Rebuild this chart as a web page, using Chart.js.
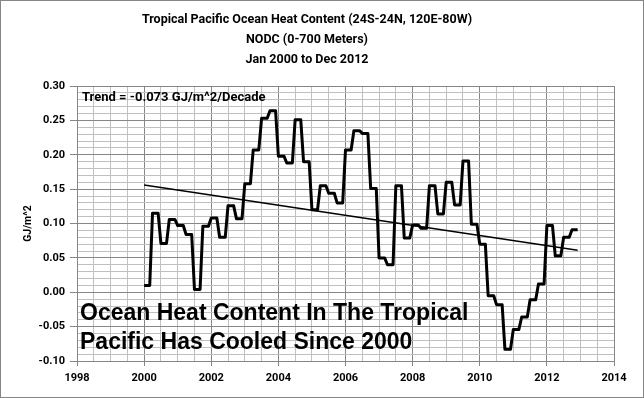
<!DOCTYPE html>
<html><head><meta charset="utf-8">
<script src="https://cdn.jsdelivr.net/npm/chart.js@4/dist/chart.umd.min.js"></script>
<style>html,body{margin:0;padding:0;background:#fff;}canvas{display:block;}</style>
</head><body>
<canvas id="c" width="644" height="398"></canvas>
<script>
const titleLines = ['Tropical Pacific Ocean Heat Content (24S-24N, 120E-80W)', 'NODC (0-700 Meters)', 'Jan 2000 to Dec 2012'];
const yAxisTitle = 'GJ/m^2';
const trendLabel = 'Trend = -0.073 GJ/m^2/Decade';
const messageLines = ['Ocean Heat Content In The Tropical', 'Pacific Has Cooled Since 2000'];
const xTickLabels = ['1998','2000','2002','2004','2006','2008','2010','2012','2014'];
const yTickLabels = ['-0.10','-0.05','0.00','0.05','0.10','0.15','0.20','0.25','0.30'];
const firstYear = 2000;
// quarterly values (GJ/m^2), Q1 2000 .. Q4 2012, each shown for its 3 months
const quarterlyValues = [
  0.010, 0.115, 0.071, 0.106,
  0.097, 0.084, 0.004, 0.096,
  0.108, 0.080, 0.126, 0.107,
  0.158, 0.207, 0.253, 0.264,
  0.198, 0.188, 0.251, 0.190,
  0.120, 0.155, 0.144, 0.130,
  0.207, 0.235, 0.231, 0.151,
  0.050, 0.040, 0.155, 0.079,
  0.098, 0.093, 0.155, 0.114,
  0.160, 0.127, 0.191, 0.099,
  0.070, -0.005, -0.018, -0.083,
  -0.054, -0.036, -0.011, 0.012,
  0.097, 0.053, 0.080, 0.091
];
const trendYears = [2000, 2012.917];
const trendValues = [0.156, 0.061];

const monthly = [];
quarterlyValues.forEach((v, q) => {
  for (let j = 0; j < 3; j++) monthly.push({x: firstYear + (3 * q + j) / 12, y: v});
});
const trend = trendYears.map((x, i) => ({x, y: trendValues[i]}));

const FONT = 'Roboto';
const MAJOR = '#868686', MINOR = '#c0c0c0';
const xLabel = v => xTickLabels.find(l => Math.abs(parseFloat(l) - v) < 1e-6) || '';
const yLabel = v => yTickLabels.find(l => Math.abs(parseFloat(l) - v) < 1e-6) || '';

const textPlugin = {
  id: 'texts',
  afterDatasetsDraw(chart) {
    const {ctx, chartArea: a} = chart;
    ctx.save();
    ctx.fillStyle = '#000';
    ctx.textBaseline = 'alphabetic';
    ctx.textAlign = 'left';
    ctx.font = 'bold 13px ' + FONT;
    ctx.fillText(trendLabel, a.left + 5, a.top + 15);
    ctx.font = 'bold 23px "Liberation Sans"';
    messageLines.forEach((l, i) => ctx.fillText(l, a.left + 3, 320 + i * 29));
    ctx.restore();
  },
  afterDraw(chart) {
    const ctx = chart.ctx;
    ctx.save();
    ctx.strokeStyle = MAJOR;
    ctx.lineWidth = 1;
    ctx.strokeRect(0.5, 0.5, 643, 397);
    ctx.restore();
  }
};

new Chart(document.getElementById('c'), {
  type: 'scatter',
  data: {
    datasets: [
      {data: monthly, showLine: true, borderColor: '#000', borderWidth: 3, pointRadius: 0, tension: 0, borderJoinStyle: 'round'},
      {data: trend, showLine: true, borderColor: '#000', borderWidth: 1.5, pointRadius: 0}
    ]
  },
  options: {
    responsive: false,
    animation: false,
    layout: {padding: {left: 0, right: 30, top: 0, bottom: 0}},
    plugins: {
      legend: {display: false},
      tooltip: {enabled: false},
      title: {
        display: true, text: titleLines, color: '#000',
        font: {family: FONT, size: 12.5, weight: 'bold', lineHeight: 1.6},
        padding: {top: 10, bottom: 16}
      }
    },
    scales: {
      x: {
        type: 'linear', min: 1998, max: 2014,
        afterFit: s => { s.height = 37; },
        ticks: {stepSize: 0.5, autoSkip: false, maxRotation: 0, padding: 6, color: '#000',
          font: {family: FONT, size: 11, weight: 'bold'}, callback: v => xLabel(v)},
        grid: {color: c => xLabel(c.tick.value) ? MAJOR : MINOR,
          tickColor: c => xLabel(c.tick.value) ? MAJOR : 'rgba(0,0,0,0)', tickLength: 5},
        border: {color: MAJOR}
      },
      y: {
        min: -0.1, max: 0.3,
        afterFit: s => { s.width = 77; },
        ticks: {stepSize: 0.01, autoSkip: false, padding: 5, color: '#000',
          font: {family: FONT, size: 11, weight: 'bold'}, callback: v => yLabel(v)},
        grid: {color: c => yLabel(c.tick.value) ? MAJOR : MINOR,
          tickColor: c => yLabel(c.tick.value) ? MAJOR : 'rgba(0,0,0,0)', tickLength: 7},
        border: {color: MAJOR},
        title: {display: true, text: yAxisTitle, color: '#000',
          font: {family: FONT, size: 10.5, weight: 'bold'}, padding: {top: 22, bottom: 0}}
      }
    }
  },
  plugins: [textPlugin]
});
</script>
</body></html>
